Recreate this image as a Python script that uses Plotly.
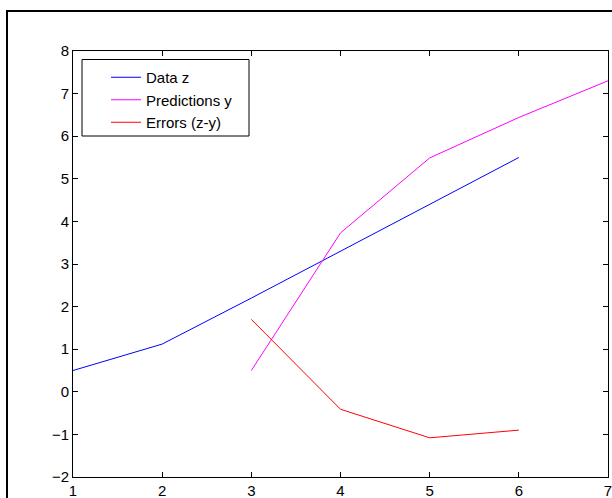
import plotly.graph_objects as go

x_data = [1, 2, 3, 4, 5, 6]
z_data = [0.5, 1.12, 2.2, 3.3, 4.4, 5.5]
x_pred = [3, 4, 5, 6, 7]
y_pred = [0.5, 3.73, 5.49, 6.44, 7.3]
x_err = [3, 4, 5, 6]
e_err = [1.7, -0.41, -1.08, -0.9]

x_ticks = [1, 2, 3, 4, 5, 6, 7]
y_ticks = [-2, -1, 0, 1, 2, 3, 4, 5, 6, 7, 8]

FONT = "Arial, Liberation Sans"

fig = go.Figure()
fig.add_trace(go.Scatter(x=x_data, y=z_data, mode="lines", name="Data z",
                         line=dict(color="#0000ff", width=1)))
fig.add_trace(go.Scatter(x=x_pred, y=y_pred, mode="lines", name="Predictions y",
                         line=dict(color="#ff00ff", width=1)))
fig.add_trace(go.Scatter(x=x_err, y=e_err, mode="lines", name="Errors (z-y)",
                         line=dict(color="#ff0000", width=1)))

L, T, R, B = 73, 51, 4, 21
W, H = 612, 498
pw, ph = W - L - R, H - T - B

def px(xp):
    return (xp - L) / pw

def py(yp):
    return (H - B - yp) / ph

axis_common = dict(showgrid=False, zeroline=False, showline=True, linecolor="black",
                   linewidth=1, mirror="ticks", ticks="inside", ticklen=5,
                   tickcolor="black", tickwidth=1, automargin=False,
                   ticklabeloverflow="allow",
                   tickfont=dict(family=FONT, size=15, color="black"))

fig.update_layout(
    width=W, height=H,
    margin=dict(l=L, r=R, t=T, b=B, pad=0, autoexpand=False),
    paper_bgcolor="white", plot_bgcolor="white",
    xaxis=dict(range=[1, 7], tickvals=x_ticks, **axis_common),
    yaxis=dict(range=[-2, 8], tickvals=y_ticks, **axis_common),
    legend=dict(x=px(106), y=py(61), xanchor="left", yanchor="top",
                bgcolor="rgba(0,0,0,0)", borderwidth=0,
                font=dict(family=FONT, size=15, color="black"),
                tracegroupgap=0),
    shapes=[
        dict(type="rect", xref="paper", yref="paper",
             x0=px(82), x1=px(249), y0=py(136), y1=py(59.5),
             line=dict(color="black", width=1), fillcolor="white", layer="below"),
        dict(type="rect", xref="paper", yref="paper",
             x0=px(7), x1=px(640), y0=py(530), y1=py(11),
             line=dict(color="black", width=2), fillcolor="rgba(0,0,0,0)", layer="above"),
    ],
)

fig.write_html(
    "out.html",
    config={"displayModeBar": False},
    post_script="document.body.style.margin='0';document.body.style.overflow='hidden';",
)
